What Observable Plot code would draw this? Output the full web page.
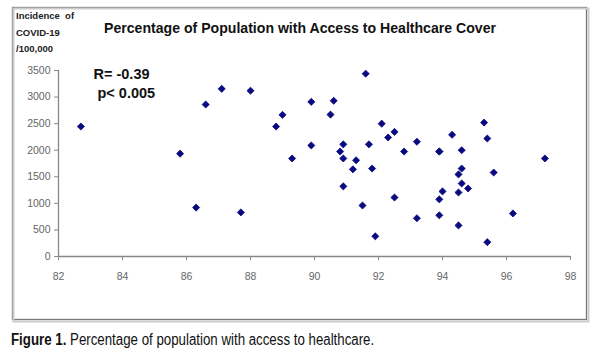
<!DOCTYPE html>
<html>
<head>
<meta charset="utf-8">
<script src="https://cdn.jsdelivr.net/npm/d3@7"></script>
<script src="https://cdn.jsdelivr.net/npm/@observablehq/plot@0.6"></script>
<style>
  body { margin: 0; background: #fff; }
  #wrap { position: relative; width: 596px; height: 361px; overflow: hidden; }
  #caption { position: absolute; left: 11px; top: 331px; font-family: "Liberation Sans", Arial, sans-serif; font-size: 16px; color: #111; white-space: nowrap; transform: scaleX(0.83); transform-origin: left top; }
</style>
</head>
<body>
<div id="wrap"><div id="chart"></div><div id="caption"><b>Figure 1.</b> Percentage of population with access to healthcare.</div></div>
<script>
// Percentage of population with access to healthcare cover
const coverage = [82.7, 85.8, 86.3, 86.6, 87.1, 87.7, 88.0, 88.8, 89.0, 89.3,
  89.9, 89.9, 90.5, 90.6, 90.8, 90.9, 90.9, 90.9, 91.2, 91.3,
  91.5, 91.6, 91.7, 91.8, 91.9, 92.1, 92.3, 92.5, 92.5, 92.8,
  93.2, 93.2, 93.9, 93.9, 93.9, 93.9, 94.0, 94.3, 94.5, 94.5,
  94.5, 94.6, 94.6, 94.6, 94.8, 95.3, 95.4, 95.4, 95.6, 96.2, 97.2];
// Incidence of COVID-19 per 100,000
const incidence = [2445, 1935, 920, 2860, 3155, 830, 3120, 2445, 2665, 1845,
  2910, 2090, 2670, 2930, 1975, 2110, 1845, 1320, 1640, 1810,
  960, 3440, 2110, 1655, 380, 2500, 2240, 2345, 1110, 1975,
  2160, 720, 1975, 1075, 775, 1975, 1225, 2290, 1545, 1205,
  585, 2000, 1655, 1375, 1280, 2520, 2220, 270, 1580, 810, 1845];
const xTicks = [82, 84, 86, 88, 90, 92, 94, 96, 98];
const yTicks = [0, 500, 1000, 1500, 2000, 2500, 3000, 3500];
const titleText = "Percentage of Population with Access to Healthcare Cover";
const yLabelLines = ["Incidence  of", "COVID-19", "/100,000"];
const statLines = ["R= -0.39", "p< 0.005"];

const points = coverage.map((c, i) => ({coverage: c, incidence: incidence[i]}));

const W = 596, H = 325;
const plot = Plot.plot({
  width: W,
  height: H,
  marginLeft: 58,
  marginRight: 26,
  marginTop: 70,
  marginBottom: 69,
  style: {fontFamily: "'Liberation Sans', Arial, sans-serif", fontSize: "10.5px", color: "#555", background: "transparent"},
  x: {domain: [82, 98], label: null},
  y: {domain: [0, 3500], label: null},
  marks: [
    Plot.axisX({ticks: xTicks, tickFormat: d => String(d), label: null, tickSize: 4, tickPadding: 12, stroke: "#888", fill: "#666"}),
    Plot.axisY({ticks: yTicks, tickFormat: d => String(d), label: null, tickSize: 4, tickPadding: 4, stroke: "#888", fill: "#666"}),
    Plot.ruleY([0], {stroke: "#888", strokeWidth: 1.3}),
    Plot.ruleX([82], {stroke: "#888", strokeWidth: 1.3}),
    Plot.dot(points, {x: "coverage", y: "incidence", symbol: "diamond2", r: 3.2, fill: "#0a0a80", stroke: "#0a0a80", strokeWidth: 0.8}),
    Plot.text([statLines[0]], {x: [82.0], y: [3430], text: d => d, textAnchor: "start", dx: 35, fontWeight: "bold", fontSize: 14.5, fill: "#111"}),
    Plot.text([statLines[1]], {x: [82.0], y: [3075], text: d => d, textAnchor: "start", dx: 39, fontWeight: "bold", fontSize: 14.5, fill: "#111"})
  ]
});
document.getElementById("chart").appendChild(plot);

const svg = d3.select(plot);
// outer frame with shadow
svg.insert("rect", ":first-child").attr("x", 13.5).attr("y", 8.5).attr("width", 575).attr("height", 313).attr("fill", "none").attr("stroke", "#ccc").attr("stroke-width", 2);
svg.insert("rect", ":first-child").attr("x", 12.5).attr("y", 7.5).attr("width", 574).attr("height", 312).attr("fill", "#fff").attr("stroke", "#777").attr("stroke-width", 1.3);
// title
svg.append("text").attr("x", 300).attr("y", 33).attr("text-anchor", "middle")
  .attr("font-family", "'Liberation Sans', Arial, sans-serif").attr("font-weight", "bold").attr("font-size", 14.5)
  .attr("fill", "#111").attr("textLength", 392).attr("lengthAdjust", "spacingAndGlyphs").text(titleText);
// y axis label
yLabelLines.forEach((t, i) => {
  svg.append("text").attr("x", 16).attr("y", 19 + i * 16.5).attr("text-anchor", "start").attr("font-family", "'Liberation Sans', Arial, sans-serif")
    .attr("font-weight", "bold").attr("font-size", 9.5).attr("fill", "#222").attr("xml:space", "preserve").text(t);
});
</script>
</body>
</html>
